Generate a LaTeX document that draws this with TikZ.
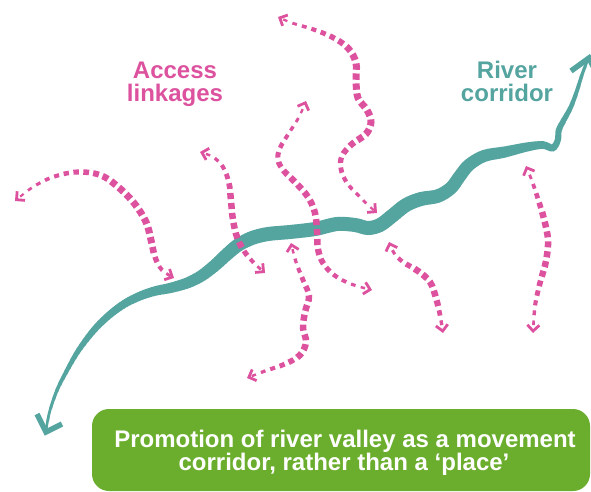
\documentclass[tikz,border=0pt]{standalone}
\usepackage{fontspec}
\setmainfont{Liberation Sans}
\usetikzlibrary{arrows.meta}
\definecolor{pinkc}{RGB}{221,82,158}
\definecolor{rivc}{RGB}{84,164,160}
\definecolor{grnc}{RGB}{107,174,45}
\tikzset{
  lkarr/.style={{Straight Barb[length=6pt,width=12pt,line width=2.8pt]}-{Straight Barb[length=6pt,width=12pt,line width=2.8pt]}},
  lbl/.style={font=\fontsize{24}{23}\selectfont\bfseries, inner sep=0pt, anchor=base},
  gbox/.style={fill=grnc, rounded corners=17pt, draw=none}
}
% pink access-link paths
\newcommand\lkA[1]{\path[#1] plot[smooth,tension=0.6] coordinates {(15,201) (33,187) (53,177) (77,172) (100,175) (117,186) (134,203) (146,222) (151,240) (155,257) (162,270) (174,278)};}
\newcommand\lkB[1]{\path[#1] plot[smooth,tension=0.6] coordinates {(200,152) (213,157) (223,167) (229,183) (231,201) (233,220) (237,237) (244,251) (254,263) (265,273)};}
\newcommand\lkC[1]{\path[#1] plot[smooth,tension=0.6] coordinates {(306,101) (299,117) (289,133) (280,148) (278,160) (284,171) (296,183) (308,197) (315,213) (317,231) (318,249) (323,263) (334,275) (351,284) (372,290)};}
\newcommand\lkD[1]{\path[#1] plot[smooth,tension=0.6] coordinates {(278,17) (292,23) (312,29) (332,37) (348,48) (356,63) (356,81) (358,98) (367,110) (371,122) (366,134) (352,144) (342,156) (341,169) (347,183) (358,195) (368,205) (377,213)};}
\newcommand\lkF[1]{\path[#1] plot[smooth,tension=0.6] coordinates {(291,243) (296,262) (303,280) (309,296) (305,312) (303,328) (306,342) (300,355) (285,364) (265,371) (247,378)};}
\newcommand\lkG[1]{\path[#1] plot[smooth,tension=0.6] coordinates {(389,242) (394,253) (403,262) (418,271) (430,282) (436,298) (440,315) (443,333)};}
\newcommand\lkH[1]{\path[#1] plot[smooth,tension=0.6] coordinates {(526,166) (532,181) (538,199) (544,219) (548,240) (546,261) (540,283) (535,306) (533,333)};}
% tapered dotted drawing: #1 path, #2 length, #3 peak position, #4 max width
\newcommand\lnkdraw[4]{%
  \pgfmathtruncatemacro\lkn{floor((#2-16)/10)}%
  \pgfmathsetmacro\lkm{(#2-\lkn*10)/2}%
  \foreach \lki in {0,...,\lkn}{%
    \pgfmathsetmacro\lkd{\lkm+\lki*10}%
    \pgfmathsetmacro\lkra{\lkd/(#2*#3)}%
    \pgfmathsetmacro\lkrb{(#2-\lkd)/(#2*(1-#3))}%
    \pgfmathsetmacro\lkf{min(1,1.5*min(\lkra,\lkrb))}%
    \pgfmathsetmacro\lkw{1.8+(#4-1.8)*\lkf}%
    \pgfmathsetmacro\lkl{3.5+0.4*\lkw}%
    \pgfmathsetmacro\lkph{4000+\lkl-(\lkd-\lkl/2)}%
    #1{draw=pinkc, line width=\lkw pt, dash pattern=on \lkl pt off 4000pt, dash phase=\lkph pt}%
  }%
  #1{draw=pinkc, line width=0.01pt, dash pattern=on 0pt off 6000pt, lkarr}%
}
\begin{document}
\begin{tikzpicture}[x=1pt,y=-1pt]
\useasboundingbox (0,0) rectangle (591,492);
\clip (0,0) rectangle (591,492);

% river: tapered stroke built from vertical strips
\foreach \sx in {34,37,...,598} {
  \pgfmathsetmacro\xx{\sx+1.5}
  \pgfmathsetmacro\rw{\xx<93 ? 2.5+(\xx-46)*4/47 : (\xx<250 ? 6.5+(\xx-93)*7.5/157 : (\xx<420 ? 14 : (\xx<500 ? 14-(\xx-420)*2.5/80 : (\xx<550 ? 11.5-(\xx-500)*4.5/50 : max(2.8,7-(\xx-550)*4.2/37)))))}
  \pgfmathsetmacro\rw{max(2.5,\rw)}
  \begin{scope}
    \clip (\sx,0) rectangle (\sx+3.3,492);
    \draw[rivc, line width=\rw pt] plot[smooth,tension=0.55] coordinates {(46,431) (47,424) (50,410) (57,390) (66,372) (78,351) (93,331) (108,316) (124,304) (140,296) (155,291) (170,288) (187,283) (201,276) (214,266) (226,255) (238,245) (252,238) (268,234) (290,232) (315,229) (337,224) (355,225) (368,228) (380,225) (392,216) (406,205) (421,199) (438,196) (451,188) (460,176) (469,165) (484,156) (505,152) (527,147) (543,145) (553,148) (558,140) (559,130) (564,120) (571,107) (577,91) (582,75) (588,59)};
  \end{scope}
}
\draw[rivc, line width=5.5pt, line join=miter] (37,414) -- (46,432) -- (62,424);
\draw[rivc, line width=5.5pt, line join=miter] (571,71) -- (589,58) -- (599,78);

% access linkages
\lnkdraw{\lkA}{228}{0.72}{7}
\lnkdraw{\lkB}{147}{0.6}{6.5}
\lnkdraw{\lkC}{242}{0.55}{6.5}
\lnkdraw{\lkD}{276}{0.45}{7}
\lnkdraw{\lkF}{177}{0.5}{6.5}
\lnkdraw{\lkG}{112.5}{0.55}{6.5}
\lnkdraw{\lkH}{173.5}{0.45}{6.5}

% labels
\node[lbl, text=pinkc] (acc1) at (175,79) {Access};
\node[lbl, text=pinkc] (acc2) at (175,102) {linkages};
\node[lbl, text=rivc] (riv1) at (507,79) {River};
\node[lbl, text=rivc] (riv2) at (507,102) {corridor};

% green box
\fill[gbox] (92,409) rectangle (590,491);
\node[lbl, text=white] (t1) at (345,447) {Promotion of river valley as a movement};
\node[lbl, text=white] (t2) at (344,470) {corridor, rather than a ‘place’};
\end{tikzpicture}
\end{document}
